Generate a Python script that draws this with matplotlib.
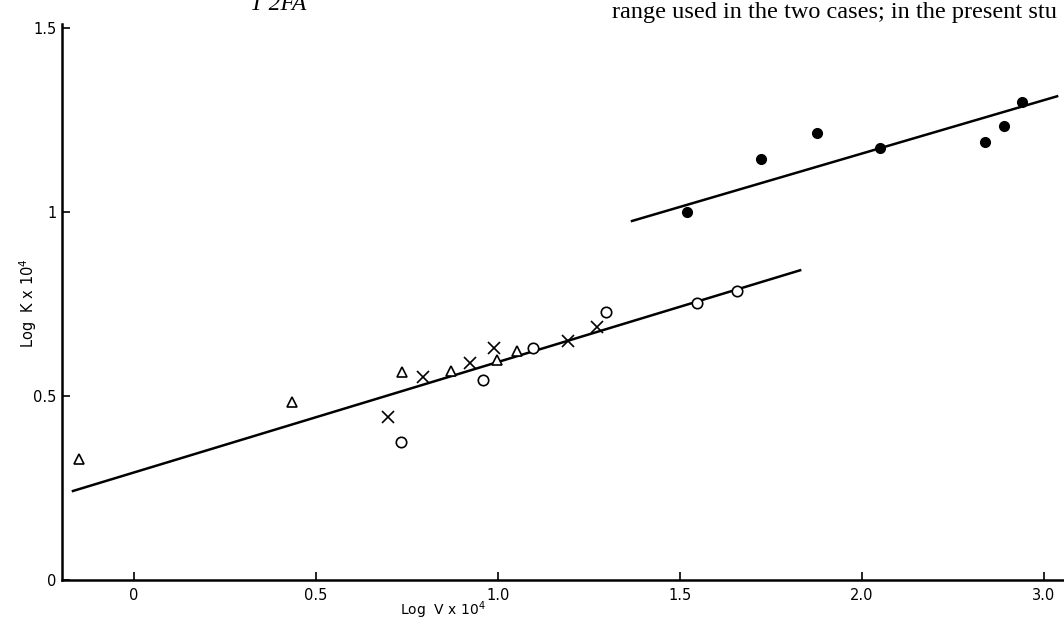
import matplotlib.pyplot as plt

# points (log V x 10^4, log K x 10^4)
tri_x = [-0.151, 0.434, 0.736, 0.871, 0.998, 1.052]
tri_y = [0.329, 0.484, 0.565, 0.568, 0.598, 0.622]

cross_x = [0.698, 0.794, 0.923, 0.989, 1.192, 1.272]
cross_y = [0.443, 0.552, 0.590, 0.630, 0.650, 0.688]

open_x = [0.734, 0.959, 1.096, 1.297, 1.547, 1.657]
open_y = [0.375, 0.543, 0.630, 0.728, 0.753, 0.785]

dot_x = [1.519, 1.723, 1.876, 2.049, 2.338, 2.390, 2.440]
dot_y = [1.000, 1.144, 1.215, 1.174, 1.190, 1.234, 1.299]

# fitted lines (end points)
low_line_x = [-0.168, 1.83]
low_line_y = [0.242, 0.842]
high_line_x = [1.368, 2.536]
high_line_y = [0.976, 1.315]

xticks = [0, 0.5, 1.0, 1.5, 2.0, 2.5]
xtick_labels = ['0', '0.5', '1.0', '1.5', '2.0', '3.0']
yticks = [0, 0.5, 1.0, 1.5]
ytick_labels = ['0', '0.5', '1', '1.5']

fig = plt.figure(figsize=(10.64, 6.2), dpi=100)
ax = fig.add_axes([0.0583, 0.0645, 0.9417, 0.8965])

ax.plot(low_line_x, low_line_y, color='black', lw=1.8)
ax.plot(high_line_x, high_line_y, color='black', lw=1.8)

ax.plot(tri_x, tri_y, linestyle='none', marker='^', ms=7.5, mfc='white',
        mec='black', mew=1.2)
ax.plot(cross_x, cross_y, linestyle='none', marker='x', ms=8, color='black',
        mew=1.2)
ax.plot(open_x, open_y, linestyle='none', marker='o', ms=7.5, mfc='white',
        mec='black', mew=1.2)
ax.plot(dot_x, dot_y, linestyle='none', marker='o', ms=7, color='black')

ax.set_xlim(-0.198, 2.555)
ax.set_ylim(0, 1.511)

for side in ['top', 'right']:
    ax.spines[side].set_visible(False)
for side in ['left', 'bottom']:
    ax.spines[side].set_linewidth(1.8)

ax.set_xticks(xticks)
ax.set_xticklabels(xtick_labels)
ax.set_yticks(yticks)
ax.set_yticklabels(ytick_labels)
ax.tick_params(direction='in', length=6, width=1.2, labelsize=10.5)
ax.tick_params(axis='x', pad=6)
ax.tick_params(axis='y', pad=4)

fig.text(443 / 1064, 1 - 610 / 620, r'Log  V x 10$^4$', ha='center', va='center',
         fontsize=10)
fig.text(28 / 1064, 1 - 303 / 620, r'Log  K x 10$^4$', ha='center', va='center',
         rotation=90, fontsize=10.5)

# cut-off page text from the scan
fig.text(250 / 1064, 1 - 10 / 620, 'T 2FA', ha='left', va='baseline',
         fontsize=17, family='Liberation Serif', style='italic')
fig.text(612 / 1064, 1 - 18 / 620, 'range used in the two cases; in the present stu',
         ha='left', va='baseline', fontsize=17.5, family='Liberation Serif')

fig.savefig('out.png', dpi=100)
